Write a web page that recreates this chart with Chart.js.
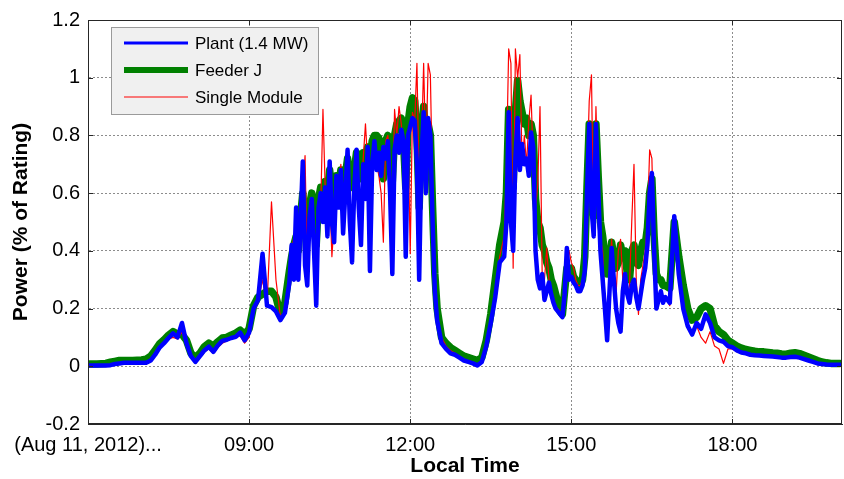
<!DOCTYPE html>
<html>
<head>
<meta charset="utf-8">
<title>Power (% of Rating)</title>
<script src="https://cdn.jsdelivr.net/npm/chart.js@4.4.1/dist/chart.umd.min.js"></script>
<style>
  html, body { margin: 0; padding: 0; background: #fff; }
  #wrap { width: 844px; height: 479px; }
</style>
</head>
<body>
<div id="wrap"><canvas id="powerChart"></canvas></div>
<script>
// sample clock, minutes after midnight: [first, last, step]
// 5 min steps where it is calm, 2.5 min steps in the two cloudy spells
const sampleSegments = [
  [360, 585, 5],      // 06:00 - 09:45
  [587.5, 750, 2.5],  // 09:47.5 - 12:30
  [755, 825, 5],      // 12:35 - 13:45
  [827.5, 1005, 2.5], // 13:47.5 - 16:45
  [1010, 1200, 5]     // 16:50 - 20:00
]

const plant = [
  // 06:00 - 09:45
  0.003,0.003,0.003,0.003,0.003,0.004,0.008,0.01,0.012,0.012,0.012,0.012,
  0.012,0.012,0.02,0.04,0.065,0.08,0.098,0.114,0.1,0.15,0.08,0.035,
  0.015,0.035,0.055,0.068,0.05,0.072,0.088,0.092,0.098,0.102,0.117,0.09,
  0.117,0.2,0.23,0.39,0.21,0.205,0.19,0.16,0.185,0.29,
  // 09:47.5 - 12:30
  0.42,0.3,0.55,0.3,0.5,0.71,0.35,0.28,0.52,0.58,0.4,0.21,
  0.55,0.6,0.5,0.62,0.45,0.71,0.5,0.43,0.66,0.55,0.68,0.46,
  0.6,0.75,0.5,0.36,0.62,0.75,0.55,0.42,0.7,0.58,0.76,0.33,
  0.7,0.78,0.68,0.74,0.66,0.76,0.72,0.78,0.6,0.32,0.75,0.8,
  0.74,0.82,0.78,0.38,0.8,0.83,0.86,0.85,0.7,0.3,0.72,0.88,
  0.6,0.86,0.8,0.5,0.26,0.16,
  // 12:35 - 13:45
  0.08,0.06,0.045,0.04,0.03,0.02,0.015,0.01,0.003,0.015,0.07,0.15,0.24,0.36,0.38,
  // 13:47.5 - 16:45
  0.5,0.88,0.5,0.4,0.72,0.86,0.68,0.77,0.7,0.72,0.66,0.81,
  0.76,0.4,0.3,0.27,0.32,0.23,0.26,0.29,0.25,0.22,0.2,0.19,
  0.18,0.17,0.25,0.41,0.3,0.31,0.29,0.28,0.26,0.26,0.28,0.33,
  0.6,0.84,0.55,0.45,0.84,0.62,0.4,0.3,0.2,0.09,0.25,0.41,
  0.3,0.2,0.15,0.12,0.26,0.32,0.25,0.22,0.28,0.3,0.24,0.2,
  0.25,0.3,0.34,0.42,0.6,0.67,0.4,0.2,0.23,0.26,0.22,0.24,
  // 16:50 - 20:00
  0.22,0.52,
  0.32,0.2,0.14,0.11,0.15,0.13,0.18,0.15,0.1,0.09,0.085,0.07,
  0.066,0.055,0.048,0.045,0.04,0.038,0.037,0.036,0.035,0.034,0.032,0.03,
  0.03,0.032,0.033,0.03,0.025,0.02,0.015,0.01,0.008,0.006,0.005,0.005,
  0.005
]

const feeder = [
  // 06:00 - 09:45
  0.008,0.008,0.008,0.009,0.01,0.014,0.017,0.02,0.02,0.02,0.02,0.021,
  0.022,0.025,0.035,0.055,0.078,0.092,0.108,0.12,0.112,0.11,0.09,0.045,
  0.03,0.045,0.068,0.08,0.07,0.085,0.098,0.1,0.108,0.115,0.125,0.11,
  0.13,0.21,0.24,0.25,0.26,0.26,0.24,0.18,0.22,0.33,
  // 09:47.5 - 12:30
  0.38,0.42,0.45,0.4,0.52,0.6,0.48,0.45,0.56,0.6,0.5,0.42,
  0.58,0.62,0.58,0.64,0.6,0.68,0.6,0.58,0.66,0.62,0.68,0.6,
  0.66,0.72,0.64,0.62,0.68,0.74,0.68,0.65,0.74,0.72,0.76,0.7,
  0.78,0.8,0.8,0.79,0.68,0.65,0.78,0.8,0.72,0.64,0.8,0.84,
  0.85,0.86,0.78,0.62,0.84,0.9,0.93,0.92,0.8,0.55,0.8,0.9,
  0.78,0.84,0.8,0.55,0.32,0.2,
  // 12:35 - 13:45
  0.1,0.08,0.065,0.055,0.045,0.035,0.03,0.025,0.02,0.03,0.09,0.18,0.3,0.42,0.5,
  // 13:47.5 - 16:45
  0.6,0.89,0.7,0.62,0.88,0.99,0.92,0.88,0.84,0.86,0.8,0.84,
  0.8,0.58,0.5,0.48,0.42,0.4,0.36,0.34,0.3,0.28,0.25,0.22,
  0.19,0.18,0.26,0.34,0.33,0.34,0.31,0.3,0.28,0.28,0.3,0.38,
  0.62,0.84,0.62,0.52,0.84,0.66,0.5,0.45,0.38,0.32,0.36,0.43,
  0.38,0.34,0.36,0.42,0.38,0.4,0.32,0.3,0.4,0.42,0.36,0.35,
  0.4,0.43,0.42,0.48,0.6,0.65,0.45,0.32,0.3,0.3,0.28,0.28,
  // 16:50 - 20:00
  0.27,0.5,
  0.38,0.28,0.2,0.16,0.17,0.2,0.21,0.2,0.14,0.12,0.11,0.09,
  0.08,0.07,0.063,0.058,0.055,0.052,0.05,0.05,0.048,0.046,0.045,0.043,
  0.042,0.045,0.047,0.044,0.038,0.032,0.026,0.02,0.015,0.012,0.01,0.01,
  0.01
]

const singleModule = [
  // 06:00 - 09:45
  0.004,0.004,0.004,0.004,0.004,0.005,0.008,0.01,0.012,0.012,0.012,0.012,
  0.012,0.012,0.02,0.04,0.062,0.078,0.095,0.1,0.095,0.12,0.075,0.03,
  0.015,0.03,0.05,0.06,0.045,0.065,0.08,0.088,0.095,0.1,0.105,0.08,
  0.1,0.19,0.22,0.3,0.21,0.57,0.3,0.17,0.19,0.28,
  // 09:47.5 - 12:30
  0.4,0.45,0.35,0.35,0.55,0.6,0.73,0.32,0.5,0.56,0.42,0.28,
  0.5,0.55,0.89,0.62,0.5,0.6,0.38,0.5,0.65,0.6,0.7,0.5,
  0.66,0.7,0.45,0.4,0.66,0.7,0.6,0.55,0.72,0.84,0.7,0.45,
  0.72,0.76,0.7,0.66,0.6,0.43,0.78,0.8,0.7,0.5,0.89,0.8,
  0.9,0.84,0.75,0.6,0.82,0.39,0.88,0.85,1.05,0.6,0.75,1.05,
  0.7,1.05,1.01,0.6,0.3,0.15,
  // 12:35 - 13:45
  0.1,0.07,0.055,0.045,0.035,0.025,0.02,0.015,0.008,0.01,0.06,0.14,0.26,0.38,0.45,
  // 13:47.5 - 16:45
  0.7,1.1,1.05,0.34,1.1,1.0,1.08,0.7,0.8,0.7,0.85,0.94,
  0.7,0.55,0.63,0.9,0.3,0.3,0.41,0.3,0.25,0.22,0.2,0.2,
  0.19,0.18,0.3,0.36,0.4,0.36,0.34,0.3,0.28,0.28,0.3,0.35,
  0.65,0.92,1.01,0.45,0.9,0.6,0.44,0.4,0.2,0.12,0.3,0.44,
  0.3,0.25,0.4,0.44,0.3,0.3,0.25,0.28,0.5,0.7,0.3,0.18,
  0.3,0.35,0.4,0.5,0.75,0.72,0.4,0.22,0.24,0.26,0.22,0.24,
  // 16:50 - 20:00
  0.21,0.5,
  0.33,0.2,0.13,0.12,0.14,0.1,0.08,0.12,0.07,0.06,0.01,0.06,
  0.06,0.05,0.045,0.042,0.04,0.038,0.036,0.035,0.034,0.033,0.032,0.03,
  0.03,0.031,0.033,0.03,0.025,0.02,0.014,0.01,0.008,0.006,0.005,0.005,
  0.005
]

const xTickHours = [6, 9, 12, 15, 18]
const xTickLabels = ["(Aug 11, 2012)...", "09:00", "12:00", "15:00", "18:00"]
const yTicks = [-0.2, 0, 0.2, 0.4, 0.6, 0.8, 1, 1.2]
const legendWidths = [3, 6, 1]

let times = []
sampleSegments.forEach(([first, last, step]) => {
  for (let m = first; m <= last + 0.001; m += step) times.push(m / 60)
})
const toPoints = values => values.map((v, i) => ({ x: times[i], y: v }))

const fontFamily = "'Liberation Sans', Arial, Helvetica, sans-serif"
const gridColor = "#8c8c8c"
const axisColor = "#262626"

// MATLAB style box, inward tick marks and the legend inside the axes
const boxAndLegend = {
  id: "boxAndLegend",
  afterDatasetsDraw(chart) {
    const { ctx, chartArea: a, scales } = chart
    ctx.save()
    ctx.strokeStyle = axisColor
    ctx.lineWidth = 1
    ctx.strokeRect(a.left + 0.5, a.top + 0.5, a.right - a.left - 1, a.bottom - a.top - 1)

    ctx.beginPath()
    xTickHours.forEach(h => {
      const x = Math.round(scales.x.getPixelForValue(h)) + 0.5
      ctx.moveTo(x, a.bottom); ctx.lineTo(x, a.bottom - 5)
      ctx.moveTo(x, a.top); ctx.lineTo(x, a.top + 5)
    })
    yTicks.forEach(v => {
      const y = Math.round(scales.y.getPixelForValue(v)) + 0.5
      ctx.moveTo(a.left, y); ctx.lineTo(a.left + 5, y)
      ctx.moveTo(a.right, y); ctx.lineTo(a.right - 5, y)
    })
    ctx.stroke()

    const x0 = a.left + 23, y0 = a.top + 7, w = 207, h = 87
    ctx.fillStyle = "#f0f0f0"
    ctx.fillRect(x0, y0, w, h)
    ctx.strokeStyle = "#9a9a9a"
    ctx.strokeRect(x0 + 0.5, y0 + 0.5, w, h)

    chart.data.datasets.forEach((ds, i) => {
      const y = y0 + 16 + i * 27
      ctx.strokeStyle = ds.borderColor
      ctx.lineWidth = legendWidths[i]
      ctx.beginPath()
      ctx.moveTo(x0 + 13, y)
      ctx.lineTo(x0 + 77, y)
      ctx.stroke()
      ctx.fillStyle = "#000"
      ctx.font = "17px " + fontFamily
      ctx.textBaseline = "middle"
      ctx.textAlign = "left"
      ctx.fillText(ds.label, x0 + 84, y + 1)
    })
    ctx.restore()
  }
}

document.addEventListener("DOMContentLoaded", () => {
  Chart.defaults.font.family = fontFamily
  Chart.defaults.color = "#000"

  const lineStyle = {
    pointRadius: 0,
    tension: 0,
    fill: false,
    borderJoinStyle: "round",
    borderCapStyle: "round"
  }

  const data = {
    datasets: [{
      ...lineStyle,
      label: "Plant (1.4 MW)",
      data: toPoints(plant),
      borderColor: "#0000ff",
      borderWidth: 4.5,
      order: 0
    }, {
      ...lineStyle,
      label: "Feeder J",
      data: toPoints(feeder),
      borderColor: "#008000",
      borderWidth: 7.5,
      order: 2
    }, {
      ...lineStyle,
      label: "Single Module",
      data: toPoints(singleModule),
      borderColor: "#ff0000",
      borderWidth: 1.2,
      order: 1
    }]
  }

  const myChart = new Chart("powerChart", {
    type: "line",
    data: data,
    plugins: [boxAndLegend],
    options: {
      animation: false,
      responsive: true,
      maintainAspectRatio: false,
      devicePixelRatio: 1,
      layout: { padding: { top: 20, right: 2, left: 0, bottom: 0 } },
      plugins: {
        legend: { display: false },
        tooltip: { enabled: false }
      },
      scales: {
        x: {
          type: "linear",
          min: 6,
          max: 20.04,
          afterBuildTicks: axis => { axis.ticks = xTickHours.map(v => ({ value: v })) },
          afterFit: axis => { axis.height = 55 },
          ticks: {
            autoSkip: false,
            maxRotation: 0,
            padding: 9,
            font: { size: 20 },
            callback: v => xTickLabels[xTickHours.indexOf(v)]
          },
          grid: { color: gridColor, lineWidth: 1, drawTicks: false },
          border: { display: true, color: axisColor, dash: [2, 2] },
          title: {
            display: true,
            text: "Local Time",
            font: { size: 21, weight: "bold" },
            padding: { top: 0, bottom: 0 }
          }
        },
        y: {
          min: -0.2,
          max: 1.2,
          afterBuildTicks: axis => { axis.ticks = yTicks.map(v => ({ value: v })) },
          afterFit: axis => { axis.width = 88 },
          ticks: {
            padding: 8,
            font: { size: 20 },
            callback: v => String(Math.round(v * 10) / 10)
          },
          grid: { color: gridColor, lineWidth: 1, drawTicks: false },
          border: { display: true, color: axisColor, dash: [2, 2] },
          title: {
            display: true,
            text: "Power (% of Rating)",
            font: { size: 21, weight: "bold" },
            padding: { top: 9, bottom: 0 }
          }
        }
      }
    }
  })
})
</script>
</body>
</html>
